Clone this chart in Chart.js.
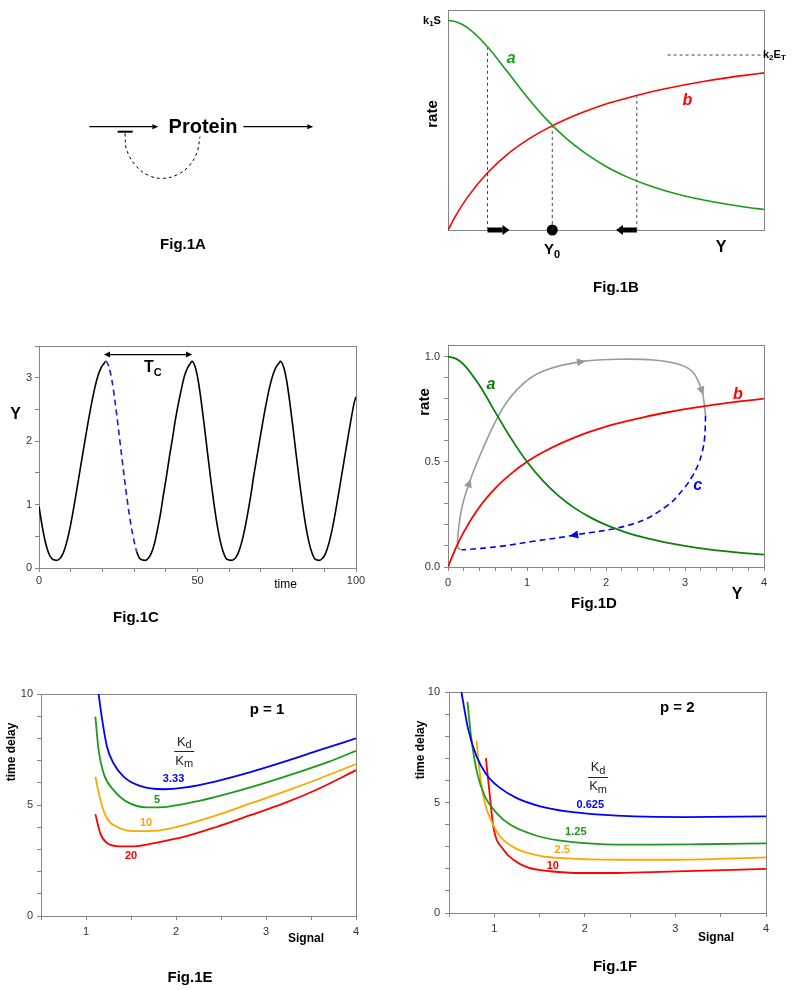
<!DOCTYPE html>
<html>
<head>
<meta charset="utf-8">
<title>Fig.1</title>
<script src="https://cdn.jsdelivr.net/npm/chart.js@4.4.1/dist/chart.umd.min.js"></script>
<style>
  html, body { margin:0; padding:0; background:#ffffff; }
  #page { position:relative; width:800px; height:990px; overflow:hidden; background:#fff; }
  #page canvas { position:absolute; left:0; top:0; }
</style>
</head>
<body>
<div id="page">
  <canvas id="figA" width="800" height="990"></canvas>
  <canvas id="figB" width="800" height="990"></canvas>
  <canvas id="figC" width="800" height="990"></canvas>
  <canvas id="figD" width="800" height="990"></canvas>
  <canvas id="figE" width="800" height="990"></canvas>
  <canvas id="figF" width="800" height="990"></canvas>
</div>
<script>
// ================= DATA =================
// Fig.1A schematic (diagram units)
const A_inX = [0.93, 7.23];   const A_inY = [1.67, 1.67];
const A_outX = [16.33, 22.73]; const A_outY = [1.67, 1.67];
const A_barX = [3.77, 5.27];  const A_barY = [2.17, 2.17];
const A_loopX = [4.5, 4.67, 5.67, 7.0, 8.33, 9.67, 10.83, 11.67, 12.0];
const A_loopY = [2.33, 4.0, 5.67, 6.6, 6.83, 6.5, 5.67, 4.33, 2.67];

// Fig.1B rates vs Y
const B_Y = [0, 0.1, 0.25, 0.5, 0.75, 1, 1.25, 1.5, 1.75, 2, 2.25, 2.5, 2.75, 3, 3.25, 3.5, 3.75, 4];
const B_a = [1.000, 0.994, 0.965, 0.875, 0.756, 0.635, 0.527, 0.436, 0.363, 0.303, 0.256, 0.218, 0.187, 0.162, 0.142, 0.125, 0.110, 0.098];
const B_b = [0, 0.070, 0.158, 0.273, 0.361, 0.429, 0.484, 0.530, 0.568, 0.601, 0.628, 0.653, 0.674, 0.693, 0.710, 0.725, 0.738, 0.750];
const B_guideX = [0.5, 1.32, 2.39];
const B_guideTop = [0.875, 0.498, 0.641];
const B_k2ET = 0.835;
const B_k2ETx = [2.78, 4];
const B_Y0 = 1.32;
const B_pushRight = [0.5, 0.69];
const B_pushLeft = [2.39, 2.215];

// Fig.1C time course
const C_t = [0, 1, 2, 3, 4, 5, 5.6,
  6.6, 7.6, 8.6, 9.6, 10.6, 11.6, 12.6, 13.6, 14.6, 15.6, 16.6, 17.6, 18.6, 19.6, 20.6, 21.0,
  22, 23, 24, 25, 26, 27, 28, 29, 30, 30.8, 32, 33.5,
  34.4, 35.4, 36.4, 37.3, 38.3, 39.2, 40.2, 41.1, 42.1, 43.0, 44.0, 45.0, 45.9, 46.9, 47.8, 48.2,
  49.2, 50.2, 51.2, 52.2, 53.2, 54.2, 55.2, 56.2, 57.2, 58.2, 59.2, 60.8,
  61.8, 62.8, 63.8, 64.8, 65.8, 66.8, 67.7, 68.7, 69.7, 70.7, 71.7, 72.7, 73.7, 74.7, 75.7, 76.1,
  77.1, 78.1, 79.1, 80.1, 81.1, 82.1, 83.1, 84.1, 85.1, 86.1, 87.1, 88.4,
  89.4, 90.4, 91.4, 92.4, 93.4, 94.4, 95.4, 96.4, 97.4, 98.4, 99.4, 100];
const C_Y = [0.97, 0.66, 0.41, 0.24, 0.15, 0.125, 0.12,
  0.15, 0.23, 0.38, 0.59, 0.85, 1.14, 1.44, 1.74, 2.04, 2.33, 2.60, 2.84, 3.03, 3.16, 3.23, 3.26,
  3.18, 2.96, 2.62, 2.22, 1.80, 1.39, 1.01, 0.68, 0.42, 0.26, 0.14, 0.12,
  0.15, 0.23, 0.38, 0.59, 0.85, 1.14, 1.44, 1.74, 2.04, 2.33, 2.60, 2.84, 3.03, 3.16, 3.23, 3.26,
  3.18, 2.96, 2.62, 2.22, 1.80, 1.39, 1.01, 0.68, 0.42, 0.24, 0.14, 0.12,
  0.15, 0.23, 0.38, 0.59, 0.85, 1.14, 1.44, 1.74, 2.04, 2.33, 2.60, 2.84, 3.03, 3.16, 3.23, 3.26,
  3.18, 2.96, 2.62, 2.22, 1.80, 1.39, 1.01, 0.68, 0.42, 0.24, 0.14, 0.12,
  0.15, 0.23, 0.38, 0.59, 0.85, 1.14, 1.44, 1.74, 2.04, 2.33, 2.60, 2.70];
const C_dashFrom = 21.0, C_dashTo = 30.8;
const C_periodX = [22.4, 46.4], C_periodY = 3.365;
const C_xTickLabels = [0, 50, 100];
const C_yTickLabels = [0, 1, 2, 3];

// Fig.1D phase plane
const D_Y = [0, 0.1, 0.2, 0.4, 0.6, 0.8, 1, 1.2, 1.4, 1.6, 1.8, 2, 2.25, 2.5, 2.75, 3, 3.25, 3.5, 3.75, 4];
const D_a = [1, 0.990, 0.962, 0.862, 0.735, 0.610, 0.5, 0.410, 0.338, 0.281, 0.236, 0.2, 0.165, 0.138, 0.117, 0.1, 0.0865, 0.0755, 0.0664, 0.0588];
const D_b = [0, 0.091, 0.167, 0.286, 0.375, 0.444, 0.5, 0.545, 0.583, 0.615, 0.643, 0.667, 0.692, 0.714, 0.733, 0.75, 0.765, 0.778, 0.789, 0.8];
const D_greyX = [0.17, 0.13, 0.12, 0.14, 0.18, 0.27, 0.36, 0.45, 0.56, 0.72, 0.92, 1.2, 1.69, 2.13, 2.6, 2.93, 3.1, 3.215, 3.245, 3.26];
const D_greyY = [0.082, 0.09, 0.12, 0.20, 0.29, 0.40, 0.49, 0.57, 0.66, 0.77, 0.86, 0.93, 0.976, 0.987, 0.984, 0.962, 0.925, 0.835, 0.77, 0.72];
const D_cX = [3.26, 3.25, 3.22, 3.17, 3.09, 3.0, 2.77, 2.35, 1.59, 1.08, 0.66, 0.24, 0.17];
const D_cY = [0.72, 0.62, 0.55, 0.49, 0.43, 0.38, 0.29, 0.206, 0.151, 0.122, 0.098, 0.083, 0.082];
const D_xTickLabels = [0, 1, 2, 3, 4];
const D_yTickLabels = [0, 0.5, 1.0];

// Fig.1E  p = 1
const E_x333 = [1.14, 1.18, 1.233, 1.307, 1.42, 1.6, 1.86, 2.085, 2.456, 2.826, 3.196, 3.567, 4];
const E_y333 = [10.0, 8.83, 7.62, 6.87, 6.27, 5.86, 5.71, 5.78, 6.08, 6.48, 6.94, 7.44, 8.0];
const E_x5 = [1.104, 1.14, 1.196, 1.307, 1.456, 1.678, 1.9, 2.27, 2.64, 3.01, 3.38, 3.7, 4];
const E_y5 = [8.98, 7.47, 6.42, 5.67, 5.14, 4.89, 4.92, 5.20, 5.58, 6.02, 6.50, 6.95, 7.44];
const E_x10 = [1.104, 1.16, 1.233, 1.344, 1.53, 1.75, 2.085, 2.456, 2.826, 3.196, 3.567, 4];
const E_y10 = [6.27, 5.22, 4.39, 4.02, 3.82, 3.83, 4.09, 4.54, 5.07, 5.59, 6.15, 6.84];
const E_x20 = [1.104, 1.16, 1.233, 1.38, 1.53, 1.826, 2.085, 2.456, 2.826, 3.196, 3.567, 4];
const E_y20 = [4.59, 3.71, 3.29, 3.14, 3.14, 3.34, 3.56, 4.02, 4.54, 5.07, 5.70, 6.57];
const EF_xTickLabels = [1, 2, 3, 4];
const EF_yTickLabels = [0, 5, 10];

// Fig.1F  p = 2
const F_x0625 = [0.637, 0.711, 0.804, 0.915, 1.063, 1.248, 1.507, 1.80, 2.174, 2.544, 3.1, 4];
const F_y0625 = [10.0, 8.33, 7.09, 6.26, 5.66, 5.2, 4.83, 4.60, 4.45, 4.37, 4.34, 4.37];
const F_x125 = [0.704, 0.748, 0.811, 0.896, 1.026, 1.174, 1.433, 1.73, 2.174, 2.73, 3.285, 4];
const F_y125 = [9.55, 7.84, 6.33, 5.28, 4.52, 4.0, 3.54, 3.27, 3.12, 3.09, 3.11, 3.15];
const F_x25 = [0.804, 0.84, 0.896, 0.97, 1.063, 1.248, 1.507, 1.8, 2.36, 2.915, 4];
const F_y25 = [7.8, 6.33, 4.98, 4.15, 3.47, 2.90, 2.59, 2.47, 2.41, 2.41, 2.52];
const F_x10 = [0.907, 0.944, 0.989, 1.1, 1.211, 1.359, 1.618, 1.989, 2.36, 2.915, 4];
const F_y10 = [7.01, 5.58, 3.92, 2.87, 2.41, 2.08, 1.89, 1.81, 1.81, 1.87, 2.0];

// ================= STYLE / HELPERS =================
const FONT = 'Arial, "Liberation Sans", Helvetica, sans-serif';
const AXIS_COLOR = '#858585';
const TICK_TEXT = '#333333';
const GREEN = '#1c9a1c', DGREEN = '#0a7f0a', RED = '#ff0000', BLUE = '#0000ff', ORANGE = '#ffa500', GREY = '#9a9a9a', DASHBLUE = '#1c1ce0';

Chart.defaults.font.family = FONT;
Chart.defaults.animation = false;
Chart.defaults.events = [];
Chart.defaults.plugins.legend.display = false;
Chart.defaults.plugins.tooltip.enabled = false;

function pts(xs, ys) { return xs.map((x, i) => ({ x: x, y: ys[i] })); }
function ds(xs, ys, color, width, extra) {
  return Object.assign({
    data: pts(xs, ys), borderColor: color, backgroundColor: color, borderWidth: width,
    pointRadius: 0, pointHoverRadius: 0, fill: false, cubicInterpolationMode: 'monotone',
    borderCapStyle: 'butt'
  }, extra || {});
}
function lbl(list, dec) {
  return function (v) {
    const m = list.find(t => Math.abs(t - v) < 1e-6);
    return m === undefined ? '' : m.toFixed(dec);
  };
}
function axis(dir, o) {
  const ticks = { stepSize: o.step, includeBounds: false, autoSkip: false, maxRotation: 0, minRotation: 0,
    padding: o.pad, color: TICK_TEXT, font: { family: FONT, size: 11 } };
  if (o.labels) ticks.callback = lbl(o.labels, o.dec || 0);
  return {
    type: 'linear', position: dir === 'x' ? 'bottom' : 'left', min: o.min, max: o.max,
    reverse: !!o.reverse, display: o.show !== false,
    grid: { display: true, drawOnChartArea: false, drawTicks: true, tickLength: 4, color: AXIS_COLOR, lineWidth: 1 },
    border: { display: true, color: AXIS_COLOR, width: 1 },
    ticks: ticks,
    afterFit: function (s) {
      if (dir === 'x') s.height = o.size; else s.width = o.size;
      s.paddingLeft = 0; s.paddingRight = 0; s.paddingTop = 0; s.paddingBottom = 0;
    }
  };
}
function fontStr(p) { return (p.italic ? 'italic ' : '') + (p.bold ? 'bold ' : '') + p.size + 'px ' + FONT; }
function drawItem(ctx, chart, it) {
  let x = it.x, y = it.y;
  if (it.data) { x = chart.scales.x.getPixelForValue(it.x); y = chart.scales.y.getPixelForValue(it.y); }
  x += it.dx || 0; y += it.dy || 0;
  ctx.save();
  if (it.hline) {
    ctx.strokeStyle = it.color || '#000'; ctx.lineWidth = 1;
    ctx.beginPath(); ctx.moveTo(x - it.hline, Math.round(y) + 0.5); ctx.lineTo(x + it.hline, Math.round(y) + 0.5); ctx.stroke();
    ctx.restore(); return;
  }
  ctx.translate(x, y);
  if (it.rot) ctx.rotate(it.rot * Math.PI / 180);
  ctx.textBaseline = 'middle'; ctx.textAlign = 'left';
  const parts = (it.parts || [{ t: it.text }]).map(p => Object.assign({ size: it.size || 12, bold: !!it.bold, italic: !!it.italic, color: it.color || '#000', dy: 0 }, p));
  let W = 0;
  parts.forEach(p => { ctx.font = fontStr(p); p.w = ctx.measureText(p.t).width; W += p.w; });
  let cx = it.align === 'left' ? 0 : (it.align === 'right' ? -W : -W / 2);
  parts.forEach(p => { ctx.font = fontStr(p); ctx.fillStyle = p.color; ctx.fillText(p.t, cx, p.dy); cx += p.w; });
  ctx.restore();
}
function textPlugin(items) {
  return { id: 'notes', afterDraw(chart) { items.forEach(it => drawItem(chart.ctx, chart, it)); } };
}
function framePlugin(on) {
  return {
    id: 'frame',
    beforeDatasetsDraw(chart) {
      if (!on) return;
      const a = chart.chartArea, c = chart.ctx;
      c.save(); c.strokeStyle = AXIS_COLOR; c.lineWidth = 1;
      c.strokeRect(Math.round(a.left) + 0.5, Math.round(a.top) + 0.5, Math.round(a.right - a.left), Math.round(a.bottom - a.top));
      c.restore();
    }
  };
}
const arrowPlugin = {
  id: 'arrowheads',
  afterDatasetsDraw(chart) {
    const ctx = chart.ctx;
    chart.data.datasets.forEach((d, i) => {
      const ar = d.arrows; if (!ar) return;
      const P = chart.getDatasetMeta(i).data;
      ctx.save(); ctx.fillStyle = ar.color || d.borderColor;
      const tri = (px, py, dx, dy) => {
        const n = Math.hypot(dx, dy) || 1; dx /= n; dy /= n;
        const bx = px - dx * ar.len, by = py - dy * ar.len, w = ar.width / 2;
        ctx.beginPath(); ctx.moveTo(px, py);
        ctx.lineTo(bx - dy * w, by + dx * w); ctx.lineTo(bx + dy * w, by - dx * w);
        ctx.closePath(); ctx.fill();
      };
      const beyond = (p, q) => { const dx = p.x - q.x, dy = p.y - q.y, n = Math.hypot(dx, dy) || 1; tri(p.x + dx / n * ar.len, p.y + dy / n * ar.len, dx, dy); };
      if (ar.end) beyond(P[P.length - 1], P[P.length - 2]);
      if (ar.start) beyond(P[0], P[1]);
      (ar.at || []).forEach(k => {
        const a = P[k - 1], b = P[k + 1], p = P[k];
        const dx = b.x - a.x, dy = b.y - a.y, n = Math.hypot(dx, dy) || 1;
        tri(p.x + dx / n * ar.len / 2, p.y + dy / n * ar.len / 2, dx, dy);
      });
      ctx.restore();
    });
  }
};
function build(id, area, datasets, scales, items) {
  const yW = area.yW || 0, xH = area.xH || 0;
  return new Chart(document.getElementById(id), {
    type: 'line',
    data: { datasets: datasets },
    options: {
      responsive: false, animation: false, events: [], devicePixelRatio: 1,
      layout: { autoPadding: false, padding: { left: area.l - yW, top: area.t, right: 800 - area.r, bottom: 990 - area.b - xH } },
      plugins: { legend: { display: false }, tooltip: { enabled: false } },
      scales: scales
    },
    plugins: [framePlugin(!!area.box), arrowPlugin, textPlugin(items)]
  });
}
function frac(x, y, color) {
  return [
    { x: x, y: y, data: true, dy: -9, size: 13, color: color, parts: [{ t: 'K' }, { t: 'd', size: 11, dy: 3 }] },
    { x: x, y: y, data: true, hline: 10, color: color },
    { x: x, y: y, data: true, dy: 10, size: 13, color: color, parts: [{ t: 'K' }, { t: 'm', size: 11, dy: 3 }] }
  ];
}
const hidden = (min, max, rev) => ({ type: 'linear', display: false, min: min, max: max, reverse: !!rev });

// ================= Fig.1A =================
build('figA', { l: 80, t: 110, r: 320, b: 190 }, [
  ds(A_inX, A_inY, '#000', 1.2, { arrows: { end: true, len: 6, width: 5 } }),
  ds(A_outX, A_outY, '#000', 1.2, { arrows: { end: true, len: 6, width: 5 } }),
  ds(A_barX, A_barY, '#000', 2),
  ds(A_loopX, A_loopY, '#000', 1, { cubicInterpolationMode: 'default', tension: 0.4, borderDash: [3, 3] })
], { x: hidden(0, 24), y: hidden(0, 8, true) }, [
  { x: 12.3, y: 1.7, data: true, text: 'Protein', bold: true, size: 20 },
  { x: 183, y: 245, text: 'Fig.1A', bold: true, size: 15 }
]);

// ================= Fig.1B =================
build('figB', { l: 448, t: 10, r: 764, b: 230, box: true }, [
  ds(B_Y, B_a, GREEN, 1.6),
  ds(B_Y, B_b, RED, 1.6),
  ...B_guideX.map((g, i) => ds([g, g], [0, B_guideTop[i]], '#444', 1, { borderDash: [3, 3] })),
  ds(B_k2ETx, [B_k2ET, B_k2ET], '#444', 1, { borderDash: [3, 3] }),
  ds(B_pushRight, [0, 0], '#000', 5, { clip: false, arrows: { end: true, len: 7, width: 10 } }),
  ds(B_pushLeft, [0, 0], '#000', 5, { clip: false, arrows: { end: true, len: 7, width: 10 } }),
  ds([B_Y0], [0], '#000', 0, { clip: false, showLine: false, pointRadius: 5.5, pointBackgroundColor: '#000', pointBorderWidth: 0 })
], { x: hidden(0, 4), y: hidden(0, 1.05) }, [
  { x: 0.80, y: 0.816, data: true, text: 'a', bold: true, italic: true, size: 16, color: GREEN },
  { x: 3.03, y: 0.62, data: true, text: 'b', bold: true, italic: true, size: 16, color: RED },
  { x: 433, y: 114, text: 'rate', bold: true, size: 15, rot: -90 },
  { x: 432, y: 21, bold: true, size: 11, parts: [{ t: 'k' }, { t: '1', size: 8, dy: 3 }, { t: 'S' }] },
  { x: 763, y: 55, align: 'left', bold: true, size: 11, parts: [{ t: 'k' }, { t: '2', size: 8, dy: 3 }, { t: 'E' }, { t: 'T', size: 8, dy: 3 }] },
  { x: 552, y: 250, bold: true, size: 15, parts: [{ t: 'Y' }, { t: '0', size: 11, dy: 5 }] },
  { x: 721, y: 248, text: 'Y', bold: true, size: 16 },
  { x: 616, y: 288, text: 'Fig.1B', bold: true, size: 15 }
]);

// ================= Fig.1C =================
const inDash = c => c.p0.parsed.x >= C_dashFrom - 1e-6 && c.p1.parsed.x <= C_dashTo + 1e-6;
build('figC', { l: 39, t: 346, r: 356, b: 568, yW: 30, xH: 20, box: true }, [
  ds(C_t, C_Y, '#000', 1.6, { segment: { borderColor: c => inDash(c) ? DASHBLUE : '#000', borderDash: c => inDash(c) ? [6, 4] : [] } }),
  ds(C_periodX, [C_periodY, C_periodY], '#000', 1.2, { arrows: { start: true, end: true, len: 6, width: 6 } })
], {
  x: axis('x', { min: 0, max: 100, step: 10, labels: C_xTickLabels, pad: 2, size: 20 }),
  y: axis('y', { min: 0, max: 3.5, step: 0.5, labels: C_yTickLabels, pad: 3, size: 30 })
}, [
  { x: 15.5, y: 415, text: 'Y', bold: true, size: 16 },
  { x: 144, y: 368, align: 'left', bold: true, size: 16, parts: [{ t: 'T' }, { t: 'C', size: 11, dy: 5 }] },
  { x: 285.5, y: 585, text: 'time', size: 12 },
  { x: 136, y: 618, text: 'Fig.1C', bold: true, size: 15 }
]);

// ================= Fig.1D =================
build('figD', { l: 448, t: 345, r: 764, b: 567, yW: 35, xH: 25, box: true }, [
  ds(D_Y, D_a, DGREEN, 1.8),
  ds(D_Y, D_b, RED, 1.8),
  ds(D_greyX, D_greyY, GREY, 1.6, { cubicInterpolationMode: 'default', tension: 0.4, arrows: { at: [5, 12, 17], len: 9, width: 8 } }),
  ds(D_cX, D_cY, BLUE, 1.6, { cubicInterpolationMode: 'default', tension: 0.4, borderDash: [6, 4], arrows: { at: [8], len: 9, width: 8 } })
], {
  x: axis('x', { min: 0, max: 4, step: 0.2, labels: D_xTickLabels, pad: 5, size: 25 }),
  y: axis('y', { min: 0, max: 1.055, step: 0.1, labels: D_yTickLabels, dec: 1, pad: 4, size: 35 })
}, [
  { x: 0.543, y: 0.865, data: true, text: 'a', bold: true, italic: true, size: 16, color: DGREEN },
  { x: 3.67, y: 0.818, data: true, text: 'b', bold: true, italic: true, size: 16, color: RED },
  { x: 3.16, y: 0.389, data: true, text: 'c', bold: true, italic: true, size: 16, color: BLUE },
  { x: 425, y: 402, text: 'rate', bold: true, size: 15, rot: -90 },
  { x: 737, y: 595, text: 'Y', bold: true, size: 16 },
  { x: 594, y: 604, text: 'Fig.1D', bold: true, size: 15 }
]);

// ================= Fig.1E =================
build('figE', { l: 41, t: 694, r: 356, b: 916, yW: 35, xH: 25, box: true }, [
  ds(E_x333, E_y333, BLUE, 1.8),
  ds(E_x5, E_y5, GREEN, 1.8),
  ds(E_x10, E_y10, ORANGE, 1.8),
  ds(E_x20, E_y20, RED, 1.8)
], {
  x: axis('x', { min: 0.5, max: 4, step: 0.5, labels: EF_xTickLabels, pad: 5, size: 25 }),
  y: axis('y', { min: 0, max: 10, step: 1, labels: EF_yTickLabels, pad: 4, size: 35 })
}, [
  { x: 1.973, y: 6.17, data: true, text: '3.33', bold: true, size: 11, color: BLUE },
  { x: 1.789, y: 5.22, data: true, text: '5', bold: true, size: 11, color: GREEN },
  { x: 1.667, y: 4.17, data: true, text: '10', bold: true, size: 11, color: ORANGE },
  { x: 1.5, y: 2.69, data: true, text: '20', bold: true, size: 11, color: RED },
  ...frac(2.092, 7.43, '#222'),
  { x: 3.011, y: 9.28, data: true, text: 'p = 1', bold: true, size: 15 },
  { x: 12, y: 752, text: 'time delay', bold: true, size: 12, rot: -90 },
  { x: 306, y: 939, text: 'Signal', bold: true, size: 12 },
  { x: 190, y: 978, text: 'Fig.1E', bold: true, size: 15 }
]);

// ================= Fig.1F =================
build('figF', { l: 449, t: 692, r: 766, b: 913, yW: 35, xH: 25, box: true }, [
  ds(F_x0625, F_y0625, BLUE, 1.8),
  ds(F_x125, F_y125, GREEN, 1.8),
  ds(F_x25, F_y25, ORANGE, 1.8),
  ds(F_x10, F_y10, RED, 1.8)
], {
  x: axis('x', { min: 0.5, max: 4, step: 0.5, labels: EF_xTickLabels, pad: 5, size: 25 }),
  y: axis('y', { min: 0, max: 10, step: 1, labels: EF_yTickLabels, pad: 5, size: 35 })
}, [
  { x: 2.06, y: 4.87, data: true, text: '0.625', bold: true, size: 11, color: BLUE },
  { x: 1.90, y: 3.67, data: true, text: '1.25', bold: true, size: 11, color: GREEN },
  { x: 1.75, y: 2.86, data: true, text: '2.5', bold: true, size: 11, color: ORANGE },
  { x: 1.646, y: 2.15, data: true, text: '10', bold: true, size: 11, color: RED },
  ...frac(2.146, 6.17, '#222'),
  { x: 3.02, y: 9.28, data: true, text: 'p = 2', bold: true, size: 15 },
  { x: 421, y: 750, text: 'time delay', bold: true, size: 12, rot: -90 },
  { x: 716, y: 938, text: 'Signal', bold: true, size: 12 },
  { x: 615, y: 967, text: 'Fig.1F', bold: true, size: 15 }
]);
</script>
</body>
</html>
